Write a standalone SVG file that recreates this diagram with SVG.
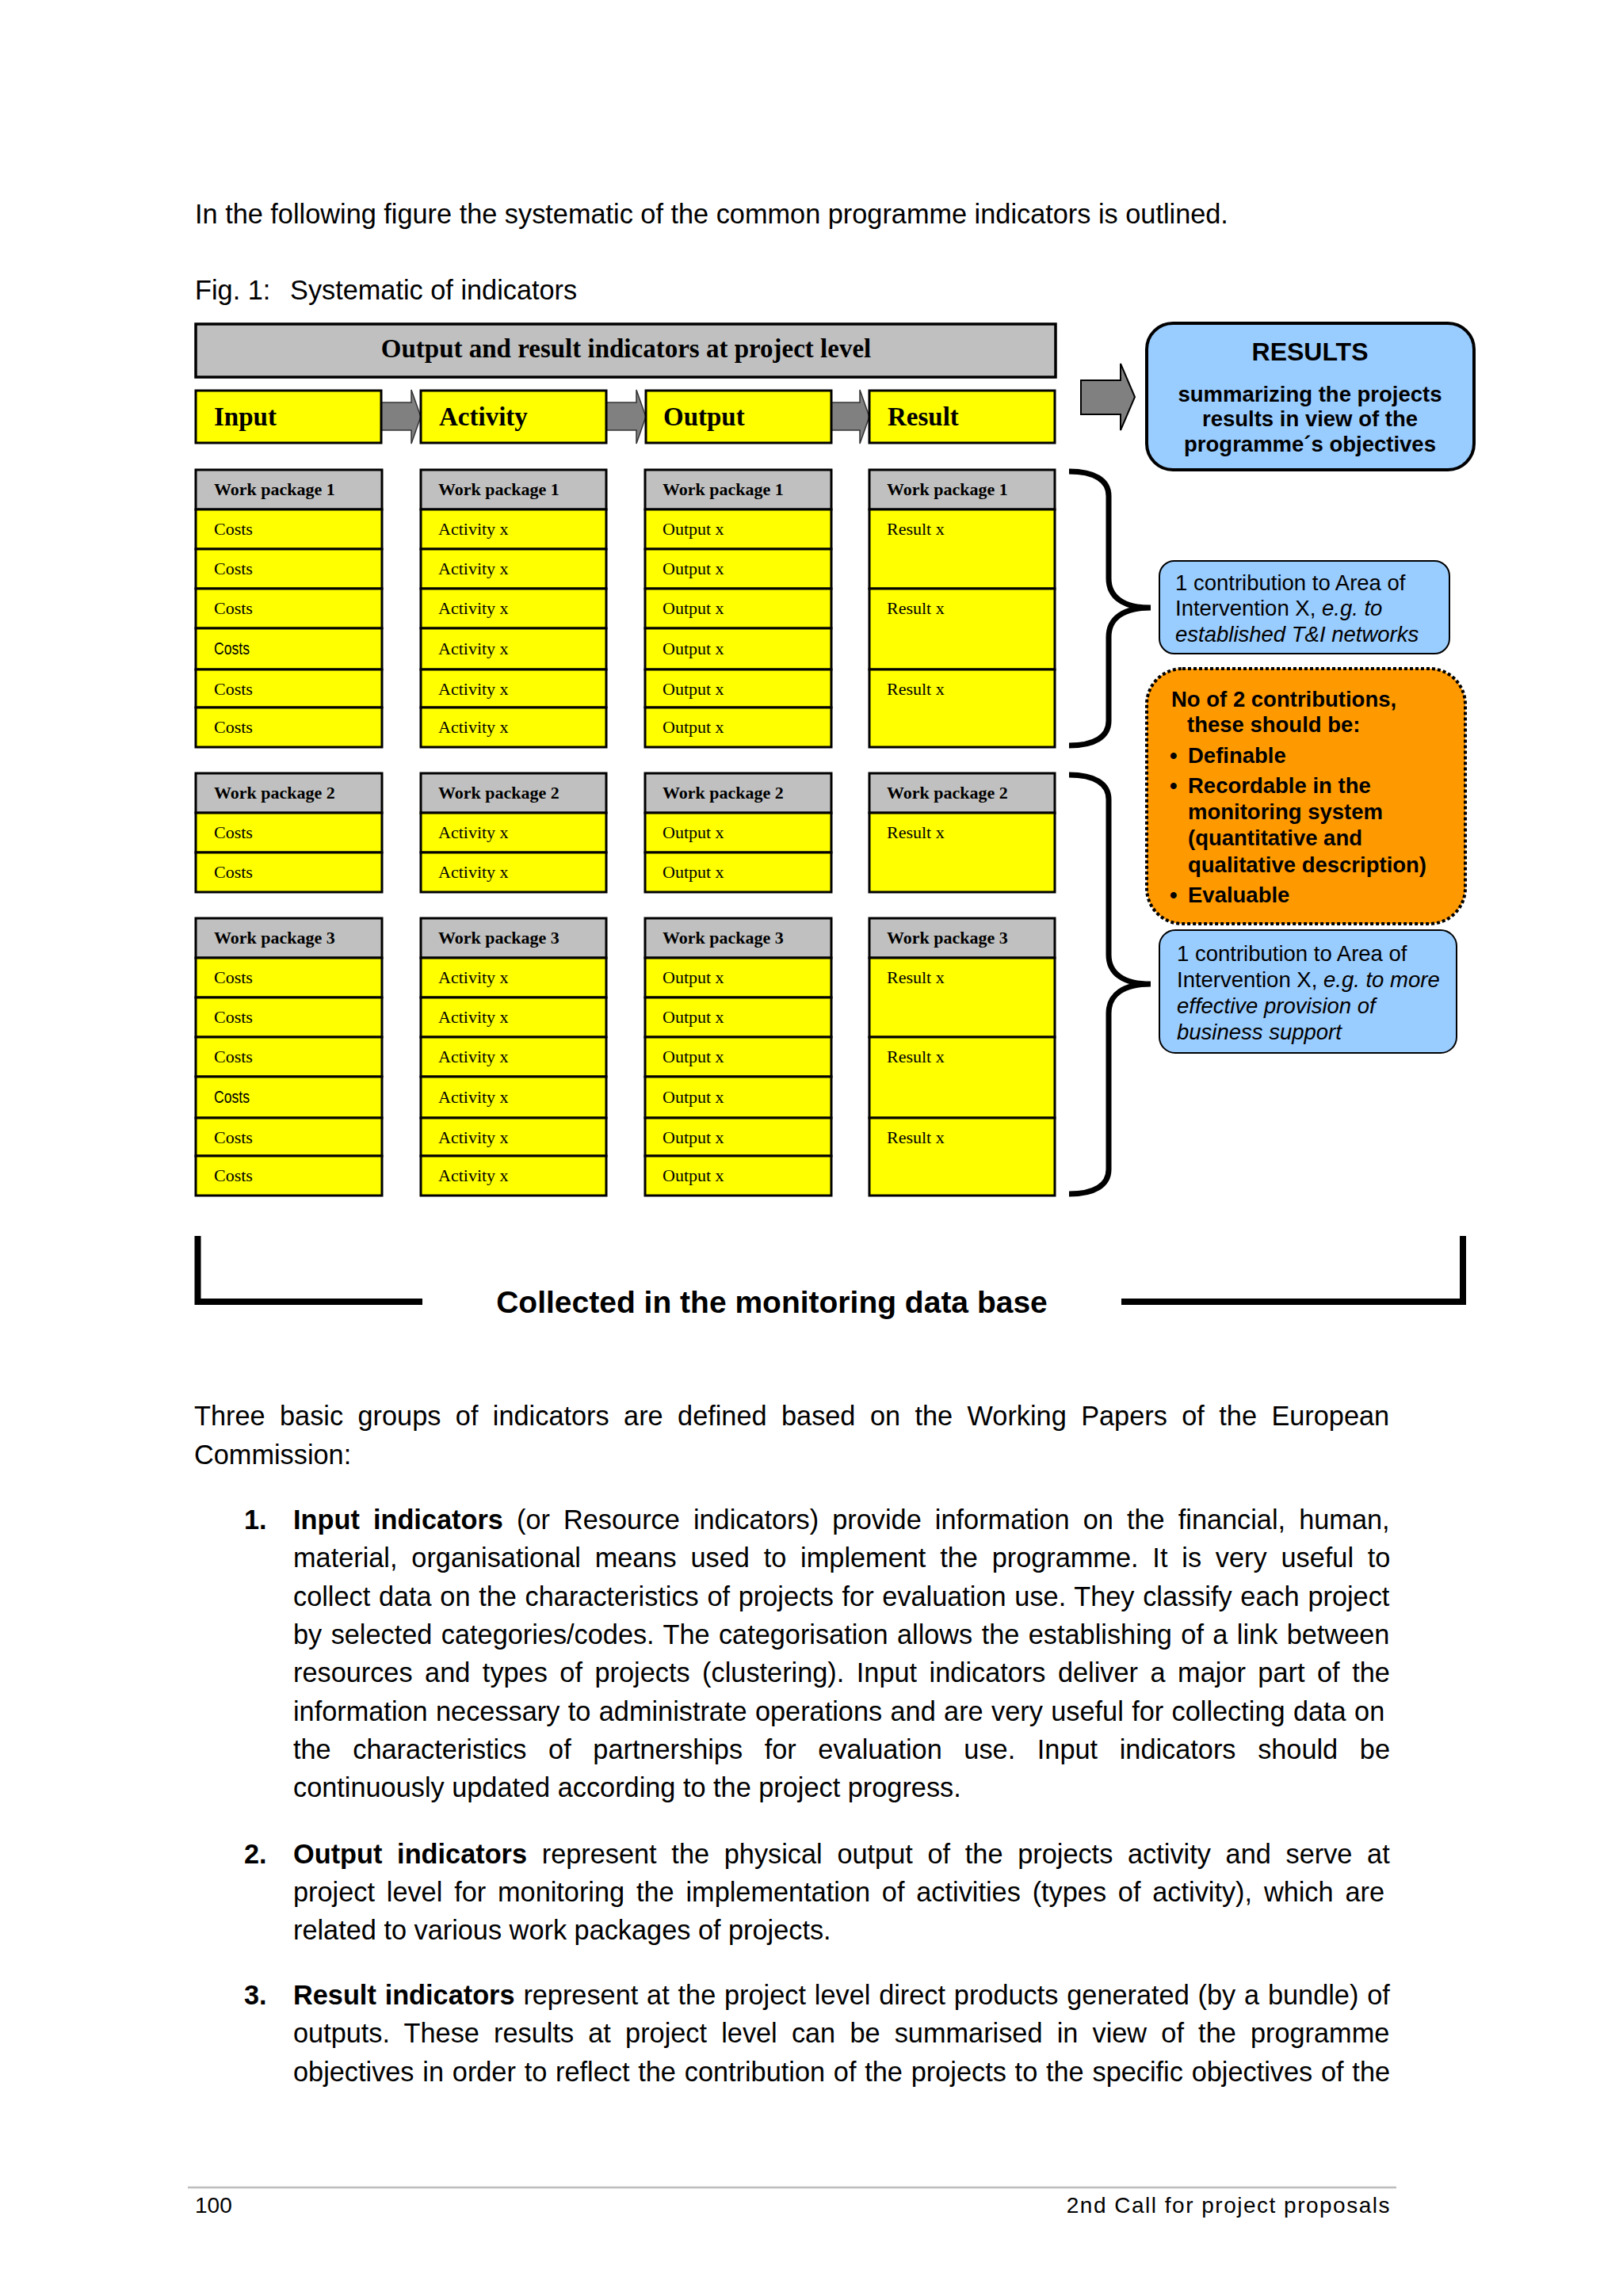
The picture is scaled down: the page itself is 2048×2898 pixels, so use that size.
<svg xmlns="http://www.w3.org/2000/svg" width="2048" height="2898" viewBox="0 0 2048 2898">
<style>
.bg{fill:#ffffff}
.cy{fill:#ffff00;stroke:#000;stroke-width:3}
.cg{fill:#c0c0c0;stroke:#000;stroke-width:3}
.wph{font-family:"Liberation Serif","Times New Roman",serif;font-weight:bold;font-size:22px;fill:#000}
.wpt{font-family:"Liberation Serif","Times New Roman",serif;font-size:22px;fill:#000}
.wps{font-family:"Liberation Sans",Arial,sans-serif;font-size:22px;fill:#000}
.hd{font-family:"Liberation Serif","Times New Roman",serif;font-weight:bold;font-size:33px;fill:#000}
.body{font-family:"Liberation Sans",Arial,sans-serif;font-size:34.3px;fill:#000}
.b{font-weight:bold}
.sans{font-family:"Liberation Sans",Arial,sans-serif;fill:#000}
.arr{fill:#808080;stroke:#333;stroke-width:1.5;stroke-linejoin:miter}
.brace{fill:none;stroke:#000;stroke-width:7;stroke-linecap:butt}
.blue{fill:#99ccff;stroke:#000}
</style>
<rect class="bg" x="0" y="0" width="2048" height="2898"/>

<text class="body" x="246" y="282">In the following figure the systematic of the common programme indicators is outlined.</text>
<text class="body" x="246" y="378">Fig. 1:</text>
<text class="body" x="366" y="378">Systematic of indicators</text>

<g id="connectors">
  <polygon class="arr" points="470,508 519,508 519,492 531,526 519,560 519,543 470,543"/>
  <polygon class="arr" points="755,508 803,508 803,492 815,526 803,560 803,543 755,543"/>
  <polygon class="arr" points="1040,508 1085,508 1085,492 1097,526 1085,560 1085,543 1040,543"/>
  <polygon points="1364,480 1414,480 1414,459 1432,501 1414,543 1414,523 1364,523" fill="#808080" stroke="#000" stroke-width="2"/>
  <path class="brace" d="M1349,595 C1381,595 1399,606 1399,626 L1399,730 C1399,754 1418,767 1452,767 C1418,767 1399,780 1399,804 L1399,910 C1399,930 1381,941 1349,941"/>
  <path class="brace" d="M1349,978 C1381,978 1399,989 1399,1009 L1399,1205 C1399,1229 1418,1242 1452,1242 C1418,1242 1399,1255 1399,1279 L1399,1476 C1399,1496 1381,1507 1349,1507"/>
</g>

<g id="header-bar">
  <rect x="247" y="409" width="1085" height="67" fill="#c0c0c0" stroke="#000" stroke-width="3.5"/>
  <text class="hd" x="790" y="451" text-anchor="middle">Output and result indicators at project level</text>
</g>

<g id="stage-input">
  <rect class="cy" x="247" y="493" width="234" height="66"/>
  <text class="hd" x="270" y="537">Input</text>
</g>
<g id="stage-activity">
  <rect class="cy" x="531" y="493" width="234" height="66"/>
  <text class="hd" x="554" y="537">Activity</text>
</g>
<g id="stage-output">
  <rect class="cy" x="815" y="493" width="234" height="66"/>
  <text class="hd" x="837" y="537">Output</text>
</g>
<g id="stage-result">
  <rect class="cy" x="1097" y="493" width="234" height="66"/>
  <text class="hd" x="1120" y="537">Result</text>
</g>

<!-- Work package 1 -->
<g id="wp1-input">
  <rect class="cg" x="247" y="593" width="235" height="50"/>
  <text class="wph" x="270" y="625">Work package 1</text>
  <rect class="cy" x="247" y="643" width="235" height="50"/>
  <rect class="cy" x="247" y="693" width="235" height="50"/>
  <rect class="cy" x="247" y="743" width="235" height="50"/>
  <rect class="cy" x="247" y="793" width="235" height="52"/>
  <rect class="cy" x="247" y="845" width="235" height="48"/>
  <rect class="cy" x="247" y="893" width="235" height="50"/>
  <text class="wpt" x="270" y="675">Costs</text>
  <text class="wpt" x="270" y="725">Costs</text>
  <text class="wpt" x="270" y="775">Costs</text>
  <text class="wps" x="270" y="826" textLength="45" lengthAdjust="spacingAndGlyphs">Costs</text>
  <text class="wpt" x="270" y="877">Costs</text>
  <text class="wpt" x="270" y="925">Costs</text>
</g>
<g id="wp1-activity">
  <rect class="cg" x="531" y="593" width="234" height="50"/>
  <text class="wph" x="553" y="625">Work package 1</text>
  <rect class="cy" x="531" y="643" width="234" height="50"/>
  <rect class="cy" x="531" y="693" width="234" height="50"/>
  <rect class="cy" x="531" y="743" width="234" height="50"/>
  <rect class="cy" x="531" y="793" width="234" height="52"/>
  <rect class="cy" x="531" y="845" width="234" height="48"/>
  <rect class="cy" x="531" y="893" width="234" height="50"/>
  <text class="wpt" x="553" y="675">Activity x</text>
  <text class="wpt" x="553" y="725">Activity x</text>
  <text class="wpt" x="553" y="775">Activity x</text>
  <text class="wpt" x="553" y="826">Activity x</text>
  <text class="wpt" x="553" y="877">Activity x</text>
  <text class="wpt" x="553" y="925">Activity x</text>
</g>
<g id="wp1-output">
  <rect class="cg" x="814" y="593" width="235" height="50"/>
  <text class="wph" x="836" y="625">Work package 1</text>
  <rect class="cy" x="814" y="643" width="235" height="50"/>
  <rect class="cy" x="814" y="693" width="235" height="50"/>
  <rect class="cy" x="814" y="743" width="235" height="50"/>
  <rect class="cy" x="814" y="793" width="235" height="52"/>
  <rect class="cy" x="814" y="845" width="235" height="48"/>
  <rect class="cy" x="814" y="893" width="235" height="50"/>
  <text class="wpt" x="836" y="675">Output x</text>
  <text class="wpt" x="836" y="725">Output x</text>
  <text class="wpt" x="836" y="775">Output x</text>
  <text class="wpt" x="836" y="826">Output x</text>
  <text class="wpt" x="836" y="877">Output x</text>
  <text class="wpt" x="836" y="925">Output x</text>
</g>
<g id="wp1-result">
  <rect class="cg" x="1097" y="593" width="234" height="50"/>
  <text class="wph" x="1119" y="625">Work package 1</text>
  <rect class="cy" x="1097" y="643" width="234" height="100"/>
  <rect class="cy" x="1097" y="743" width="234" height="102"/>
  <rect class="cy" x="1097" y="845" width="234" height="98"/>
  <text class="wpt" x="1119" y="675">Result x</text>
  <text class="wpt" x="1119" y="775">Result x</text>
  <text class="wpt" x="1119" y="877">Result x</text>
</g>

<!-- Work package 2 -->
<g id="wp2-input">
  <rect class="cg" x="247" y="976" width="235" height="50"/>
  <text class="wph" x="270" y="1008">Work package 2</text>
  <rect class="cy" x="247" y="1026" width="235" height="50"/>
  <rect class="cy" x="247" y="1076" width="235" height="50"/>
  <text class="wpt" x="270" y="1058">Costs</text>
  <text class="wpt" x="270" y="1108">Costs</text>
</g>
<g id="wp2-activity">
  <rect class="cg" x="531" y="976" width="234" height="50"/>
  <text class="wph" x="553" y="1008">Work package 2</text>
  <rect class="cy" x="531" y="1026" width="234" height="50"/>
  <rect class="cy" x="531" y="1076" width="234" height="50"/>
  <text class="wpt" x="553" y="1058">Activity x</text>
  <text class="wpt" x="553" y="1108">Activity x</text>
</g>
<g id="wp2-output">
  <rect class="cg" x="814" y="976" width="235" height="50"/>
  <text class="wph" x="836" y="1008">Work package 2</text>
  <rect class="cy" x="814" y="1026" width="235" height="50"/>
  <rect class="cy" x="814" y="1076" width="235" height="50"/>
  <text class="wpt" x="836" y="1058">Output x</text>
  <text class="wpt" x="836" y="1108">Output x</text>
</g>
<g id="wp2-result">
  <rect class="cg" x="1097" y="976" width="234" height="50"/>
  <text class="wph" x="1119" y="1008">Work package 2</text>
  <rect class="cy" x="1097" y="1026" width="234" height="100"/>
  <text class="wpt" x="1119" y="1058">Result x</text>
</g>

<!-- Work package 3 -->
<g id="wp3-input">
  <rect class="cg" x="247" y="1159" width="235" height="50"/>
  <text class="wph" x="270" y="1191">Work package 3</text>
  <rect class="cy" x="247" y="1209" width="235" height="50"/>
  <rect class="cy" x="247" y="1259" width="235" height="50"/>
  <rect class="cy" x="247" y="1309" width="235" height="50"/>
  <rect class="cy" x="247" y="1359" width="235" height="52"/>
  <rect class="cy" x="247" y="1411" width="235" height="48"/>
  <rect class="cy" x="247" y="1459" width="235" height="50"/>
  <text class="wpt" x="270" y="1241">Costs</text>
  <text class="wpt" x="270" y="1291">Costs</text>
  <text class="wpt" x="270" y="1341">Costs</text>
  <text class="wps" x="270" y="1392" textLength="45" lengthAdjust="spacingAndGlyphs">Costs</text>
  <text class="wpt" x="270" y="1443">Costs</text>
  <text class="wpt" x="270" y="1491">Costs</text>
</g>
<g id="wp3-activity">
  <rect class="cg" x="531" y="1159" width="234" height="50"/>
  <text class="wph" x="553" y="1191">Work package 3</text>
  <rect class="cy" x="531" y="1209" width="234" height="50"/>
  <rect class="cy" x="531" y="1259" width="234" height="50"/>
  <rect class="cy" x="531" y="1309" width="234" height="50"/>
  <rect class="cy" x="531" y="1359" width="234" height="52"/>
  <rect class="cy" x="531" y="1411" width="234" height="48"/>
  <rect class="cy" x="531" y="1459" width="234" height="50"/>
  <text class="wpt" x="553" y="1241">Activity x</text>
  <text class="wpt" x="553" y="1291">Activity x</text>
  <text class="wpt" x="553" y="1341">Activity x</text>
  <text class="wpt" x="553" y="1392">Activity x</text>
  <text class="wpt" x="553" y="1443">Activity x</text>
  <text class="wpt" x="553" y="1491">Activity x</text>
</g>
<g id="wp3-output">
  <rect class="cg" x="814" y="1159" width="235" height="50"/>
  <text class="wph" x="836" y="1191">Work package 3</text>
  <rect class="cy" x="814" y="1209" width="235" height="50"/>
  <rect class="cy" x="814" y="1259" width="235" height="50"/>
  <rect class="cy" x="814" y="1309" width="235" height="50"/>
  <rect class="cy" x="814" y="1359" width="235" height="52"/>
  <rect class="cy" x="814" y="1411" width="235" height="48"/>
  <rect class="cy" x="814" y="1459" width="235" height="50"/>
  <text class="wpt" x="836" y="1241">Output x</text>
  <text class="wpt" x="836" y="1291">Output x</text>
  <text class="wpt" x="836" y="1341">Output x</text>
  <text class="wpt" x="836" y="1392">Output x</text>
  <text class="wpt" x="836" y="1443">Output x</text>
  <text class="wpt" x="836" y="1491">Output x</text>
</g>
<g id="wp3-result">
  <rect class="cg" x="1097" y="1159" width="234" height="50"/>
  <text class="wph" x="1119" y="1191">Work package 3</text>
  <rect class="cy" x="1097" y="1209" width="234" height="100"/>
  <rect class="cy" x="1097" y="1309" width="234" height="102"/>
  <rect class="cy" x="1097" y="1411" width="234" height="98"/>
  <text class="wpt" x="1119" y="1241">Result x</text>
  <text class="wpt" x="1119" y="1341">Result x</text>
  <text class="wpt" x="1119" y="1443">Result x</text>
</g>

<g id="results-box">
  <rect class="blue" x="1447" y="408" width="413" height="185" rx="33" ry="33" stroke-width="4"/>
  <text class="sans b" x="1653" y="455" text-anchor="middle" font-size="32">RESULTS</text>
  <text class="sans b" x="1653" y="507" text-anchor="middle" font-size="27.5">summarizing the projects</text>
  <text class="sans b" x="1653" y="538" text-anchor="middle" font-size="27.5">results in view of the</text>
  <text class="sans b" x="1653" y="570" text-anchor="middle" font-size="27.5">programme´s objectives</text>
</g>

<g id="contribution-1">
  <rect class="blue" x="1463" y="708" width="366" height="117" rx="19" ry="19" stroke-width="2"/>
  <text class="sans" x="1483" y="745" font-size="27.5">1 contribution to Area of</text>
  <text class="sans" x="1483" y="777" font-size="27.5">Intervention X, <tspan font-style="italic">e.g. to</tspan></text>
  <text class="sans" x="1483" y="810" font-size="27.5" font-style="italic">established T&amp;I networks</text>
</g>

<g id="criteria-box">
  <rect x="1447" y="844" width="402" height="322" rx="45" ry="45" fill="#ff9900" stroke="#000" stroke-width="4" stroke-dasharray="4 3"/>
  <g class="sans b" font-size="27.5">
    <text x="1478" y="892">No of 2 contributions,</text>
    <text x="1498" y="924">these should be:</text>
    <text x="1476" y="963">•</text>
    <text x="1499" y="963">Definable</text>
    <text x="1476" y="1001">•</text>
    <text x="1499" y="1001">Recordable in the</text>
    <text x="1499" y="1034">monitoring system</text>
    <text x="1499" y="1067">(quantitative and</text>
    <text x="1499" y="1101">qualitative description)</text>
    <text x="1476" y="1139">•</text>
    <text x="1499" y="1139">Evaluable</text>
  </g>
</g>

<g id="contribution-2">
  <rect class="blue" x="1463" y="1174" width="375" height="155" rx="20" ry="20" stroke-width="2"/>
  <text class="sans" x="1485" y="1213" font-size="27.5">1 contribution to Area of</text>
  <text class="sans" x="1485" y="1246" font-size="27.5">Intervention X, <tspan font-style="italic">e.g. to more</tspan></text>
  <text class="sans" x="1485" y="1279" font-size="27.5" font-style="italic">effective provision of</text>
  <text class="sans" x="1485" y="1312" font-size="27.5" font-style="italic">business support</text>
</g>

<g id="monitoring-bracket">
  <polyline points="249.5,1560 249.5,1643 533,1643" fill="none" stroke="#000" stroke-width="8" stroke-linejoin="miter"/>
  <polyline points="1415,1643 1846,1643 1846,1560" fill="none" stroke="#000" stroke-width="8" stroke-linejoin="miter"/>
  <text class="sans b" x="974" y="1657" text-anchor="middle" font-size="39">Collected in the monitoring data base</text>
</g>

<g id="body-text" class="body">
  <text x="245" y="1799" word-spacing="8.9">Three basic groups of indicators are defined based on the Working Papers of the European</text>
  <text x="245" y="1848">Commission:</text>

  <text x="308" y="1930" class="b">1.</text>
  <text x="370" y="1930" word-spacing="7.6"><tspan class="b">Input indicators</tspan> (or Resource indicators) provide information on the financial, human,</text>
  <text x="370" y="1978" word-spacing="8.3">material, organisational means used to implement the programme. It is very useful to</text>
  <text x="370" y="2027" word-spacing="1.17">collect data on the characteristics of projects for evaluation use. They classify each project</text>
  <text x="370" y="2075" word-spacing="1.9">by selected categories/codes. The categorisation allows the establishing of a link between</text>
  <text x="370" y="2123" word-spacing="6.0">resources and types of projects (clustering). Input indicators deliver a major part of the</text>
  <text x="370" y="2172" word-spacing="0.86">information necessary to administrate operations and are very useful for collecting data on</text>
  <text x="370" y="2220" word-spacing="18.1">the characteristics of partnerships for evaluation use. Input indicators should be</text>
  <text x="370" y="2268">continuously updated according to the project progress.</text>

  <text x="308" y="2352" class="b">2.</text>
  <text x="370" y="2352" word-spacing="9.2"><tspan class="b">Output indicators</tspan> represent the physical output of the projects activity and serve at</text>
  <text x="370" y="2400" word-spacing="5.3">project level for monitoring the implementation of activities (types of activity), which are</text>
  <text x="370" y="2448">related to various work packages of projects.</text>

  <text x="308" y="2530" class="b">3.</text>
  <text x="370" y="2530" word-spacing="1.3"><tspan class="b">Result indicators</tspan> represent at the project level direct products generated (by a bundle) of</text>
  <text x="370" y="2578" word-spacing="8.65">outputs. These results at project level can be summarised in view of the programme</text>
  <text x="370" y="2627" word-spacing="1.27">objectives in order to reflect the contribution of the projects to the specific objectives of the</text>
</g>

<g id="footer">
  <line x1="237" y1="2761" x2="1762" y2="2761" stroke="#bdbdbd" stroke-width="2.5"/>
  <text class="sans" x="246" y="2793" font-size="28">100</text>
  <text class="sans" x="1755" y="2793" font-size="28" text-anchor="end" letter-spacing="1.5">2nd Call for project proposals</text>
</g>
</svg>
